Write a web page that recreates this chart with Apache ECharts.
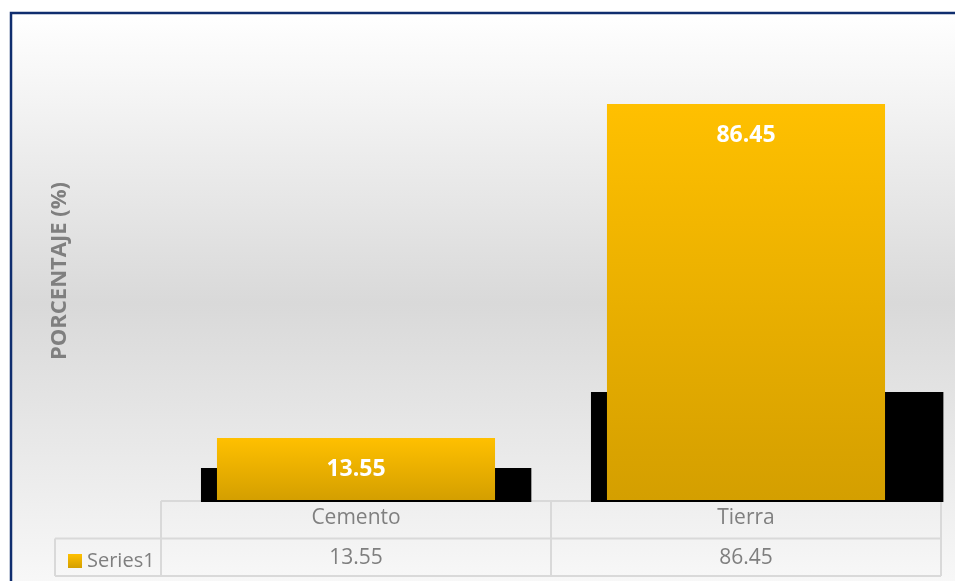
<!DOCTYPE html>
<html>
<head>
<meta charset="utf-8">
<script src="https://cdn.jsdelivr.net/npm/echarts@6/dist/echarts.min.js"></script>
<style>
  html, body { margin: 0; padding: 0; background: #fff; }
  #chart { width: 955px; height: 581px; }
</style>
</head>
<body>
<div id="chart"></div>
<script>
// datos del grafico
const categories = ['Cemento', 'Tierra']
const values = [13.55, 86.45]
const shadowValues = [7.0, 23.6]   // sombra negra detras de cada barra
const seriesName = 'Series1'

// layout
const gridLeft = 161, gridRight = 14, gridTop = 42, gridBottom = 81
const W = 955, H = 581
const axisY = H - gridBottom
const rowH = 37.5
const legendCellX = 55
const font = '"Open Sans", "Noto Sans", sans-serif'
const gray = '#7f7f7f'
const lineColor = '#d9d9d9'

const yellow = {
    type: 'linear', x: 0, y: 0, x2: 0, y2: 1,
    colorStops: [
        { offset: 0, color: '#ffc000' },
        { offset: 1, color: '#d49f00' }
    ]
}

const chart = echarts.init(document.getElementById('chart'))

// lineas de la tabla de datos
const tableLines = []
const hLine = (x1, x2, y) => tableLines.push({ type: 'line', z: 1, silent: true,
    shape: { x1, y1: y, x2, y2: y }, style: { stroke: lineColor, lineWidth: 2 } })
const vLine = (x, y1, y2) => tableLines.push({ type: 'line', z: 1, silent: true,
    shape: { x1: x, y1, x2: x, y2 }, style: { stroke: lineColor, lineWidth: 2 } })
hLine(gridLeft, W - gridRight, axisY + 1)
hLine(legendCellX, W - gridRight, axisY + 1 + rowH)
hLine(legendCellX, W - gridRight, axisY + 1 + rowH * 2)
vLine(legendCellX, axisY + 1 + rowH, axisY + 1 + rowH * 2)
const colW = (W - gridRight - gridLeft) / categories.length
for (let i = 0; i <= categories.length; i++) {
    vLine(gridLeft + colW * i, axisY + 1, axisY + 1 + rowH * 2)
}

chart.setOption({
    animation: false,
    textStyle: { fontFamily: font },
    graphic: [
        {   // fondo con degradado y marco azul
            type: 'rect', z: -10, silent: true,
            shape: { x: 11, y: 13, width: W + 20, height: H },
            style: {
                fill: {
                    type: 'linear', x: 0, y: 0, x2: 0, y2: 1,
                    colorStops: [
                        { offset: 0, color: '#ffffff' },
                        { offset: 0.5, color: '#d9d9d9' },
                        { offset: 1, color: '#f9f9f9' }
                    ]
                },
                stroke: '#0f2d6e', lineWidth: 2.5
            }
        },
        ...tableLines
    ],
    grid: { left: gridLeft, right: gridRight, top: gridTop, bottom: gridBottom },
    legend: {
        left: 63, top: 546,
        itemWidth: 14, itemHeight: 14, itemGap: 4,
        icon: 'rect',
        data: [seriesName],
        textStyle: { color: gray, fontSize: 20, fontFamily: font }
    },
    xAxis: [
        {
            type: 'category', data: categories,
            axisLine: { show: false }, axisTick: { show: false },
            axisLabel: { color: gray, fontSize: 21, margin: 8 }
        },
        {
            type: 'category', data: categories, position: 'bottom', offset: rowH + 2,
            axisLine: { show: false }, axisTick: { show: false },
            axisLabel: { color: gray, fontSize: 21, margin: 8,
                formatter: (v, i) => values[i].toFixed(2) }
        }
    ],
    yAxis: {
        type: 'value', min: 0, max: 100,
        name: 'PORCENTAJE (%)', nameLocation: 'middle', nameGap: 90,
        nameTextStyle: { color: gray, fontSize: 22, fontWeight: 'bold' },
        axisLabel: { show: false }, axisLine: { show: false },
        axisTick: { show: false }, splitLine: { show: false }
    },
    series: [
        {   // sombra negra
            type: 'custom', z: 1, silent: true,
            data: shadowValues.map((v, i) => [i, v]),
            renderItem: function (params, api) {
                const base = api.coord([api.value(0), 0])
                const top = api.coord([api.value(0), api.value(1)])
                const hw = api.size([1, 0])[0] * 0.713 / 2
                const h = base[1] - top[1]
                const ext = 27 + 0.29 * h
                return {
                    type: 'rect',
                    shape: { x: base[0] - hw - 16, y: top[1], width: hw * 2 + 16 + ext, height: h + 2 },
                    style: { fill: '#000' }
                }
            }
        },
        {
            name: seriesName, type: 'bar', z: 3,
            data: values,
            barWidth: '71.3%',
            itemStyle: { color: yellow },
            label: {
                show: true, position: 'insideTop', distance: 20,
                color: '#fff', fontSize: 23, fontWeight: 'bold', fontFamily: font
            }
        }
    ]
})
</script>
</body>
</html>
